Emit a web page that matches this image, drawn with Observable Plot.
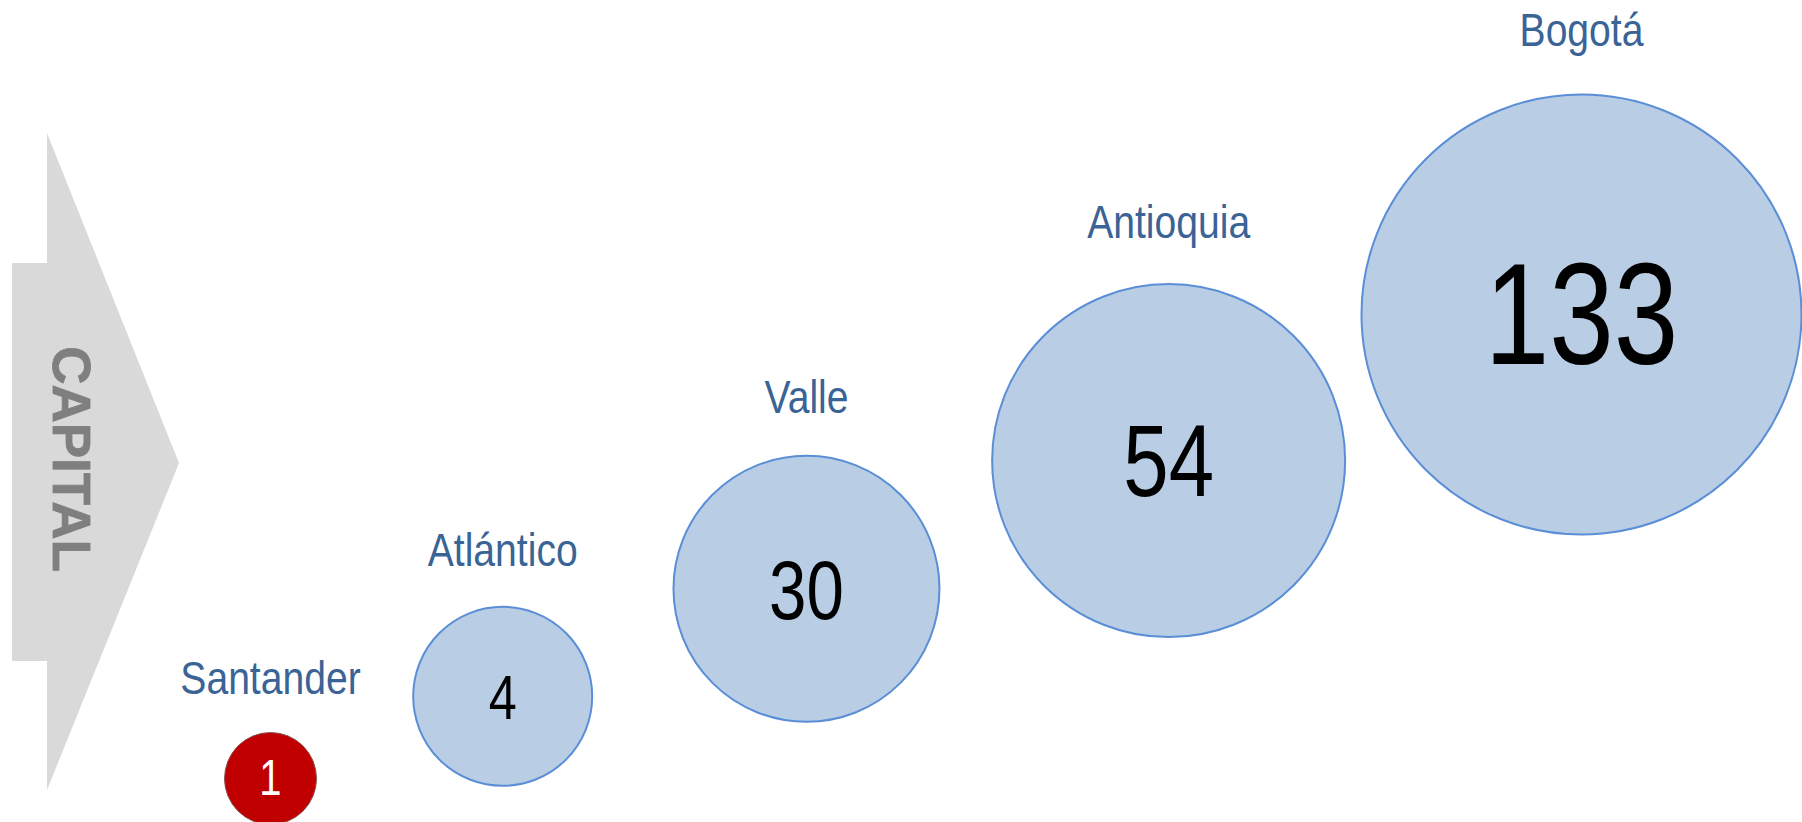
<!DOCTYPE html>
<html>
<head>
<meta charset="utf-8">
<script src="https://cdn.jsdelivr.net/npm/d3@7"></script>
<script src="https://cdn.jsdelivr.net/npm/@observablehq/plot@0.6"></script>
<style>
  html, body { margin: 0; padding: 0; background: #ffffff; }
  #wrap { position: relative; width: 1802px; height: 822px; overflow: hidden; }
  #arrow, #chart { position: absolute; left: 0; top: 0; }
</style>
</head>
<body>
<div id="wrap">
  <svg id="arrow" width="1802" height="822"></svg>
  <div id="chart"></div>
</div>
<script>
// ---- data ----
const departments = ["Santander", "Atlántico", "Valle", "Antioquia", "Bogotá"];
const counts = [1, 4, 30, 54, 133];
const highlighted = ["Santander"];
const sideLabel = "CAPITAL";

const data = departments.map((name, i) => ({name, value: counts[i], rank: i + 1}));

// ---- font detection (narrow face if available) ----
function hasFont(name) {
  const c = document.createElement("canvas").getContext("2d");
  const s = "Bogotá Antioquia 133 mmwwii";
  c.font = "40px monospace";
  const a = c.measureText(s).width;
  c.font = `40px "${name}", monospace`;
  return c.measureText(s).width !== a;
}
const narrow = ["Liberation Sans Narrow", "Arial Narrow"].find(hasFont);
const font = narrow ? `"${narrow}", "Liberation Sans", Arial, sans-serif` : `"Liberation Sans", Arial, sans-serif`;
const labelSqueeze = narrow ? 1 : 0.85;
const numberSqueeze = narrow ? 1 : 0.8;

// ---- decorative arrow ----
const arrow = d3.select("#arrow");
arrow.append("polygon")
  .attr("points", "12,263 47,263 47,133 179,463 47,790 47,661 12,661")
  .attr("fill", "#D9D9D9");
arrow.append("text")
  .attr("transform", "translate(72,459) rotate(90)")
  .attr("text-anchor", "middle")
  .attr("dy", "0.36em")
  .attr("font-family", `"Liberation Sans", Arial, sans-serif`)
  .attr("font-weight", "bold")
  .attr("font-size", 53)
  .attr("stroke", "#7F7F7F")
  .attr("stroke-width", 0.8)
  .attr("fill", "#7F7F7F")
  .text(sideLabel);

// ---- scales ----
const xOpts = {type: "pow", exponent: 1.52, domain: [1, 5], range: [270, 1581]};
const yOpts = {type: "pow", exponent: 1.52, domain: [1, 5], range: [778, 314]};
const rOpts = {type: "linear", domain: [1, 5], range: [46, 220]};
const yS = Plot.scale({y: yOpts});
const rS = Plot.scale({r: rOpts});

const isHi = d => highlighted.includes(d.name);
// digit size grows with bubble order (style only)
const numSizeScale = d3.scaleLinear().domain([1, 2, 3, 4, 5]).range([50, 63, 84, 102, 145]);
const numSize = d => numSizeScale(d.rank);
const labelY = d => {
  const r = rS.apply(d.rank);
  return yS.invert(yS.apply(d.rank) - 1.06 * r - 50);
};

const chart = Plot.plot({
  width: 1802,
  height: 822,
  margin: 0,
  x: {...xOpts, axis: null},
  y: {...yOpts, axis: null},
  r: rOpts,
  style: {background: "transparent", overflow: "visible", fontFamily: font},
  marks: [
    Plot.dot(data, {filter: d => !isHi(d), x: "rank", y: "rank", r: "rank",
      fill: "#B9CDE5", stroke: "#5A8ED6", strokeWidth: 2}),
    Plot.dot(data, {filter: isHi, x: "rank", y: "rank", r: "rank",
      fill: "#C00000", stroke: "#8A5050", strokeWidth: 1}),
    Plot.text(data, {filter: d => !isHi(d), x: "rank", y: "rank", text: d => String(d.value),
      fontSize: numSize, fill: "#000000", dy: 3, className: "num"}),
    Plot.text(data, {filter: isHi, x: "rank", y: "rank", text: d => String(d.value),
      fontSize: numSize, fill: "#FFFFFF", className: "num"}),
    Plot.text(data, {x: "rank", y: labelY, text: "name", fontSize: 46, fill: "#3A6396", className: "lbl"})
  ]
});
document.getElementById("chart").appendChild(chart);

// Condense glyphs horizontally if no narrow face is installed
function squeezeTexts(sel, k) {
  if (k === 1) return;
  d3.select(chart).selectAll(sel).each(function() {
    const t = d3.select(this);
    const tr = t.attr("transform");
    if (tr) t.attr("transform", `${tr} scale(${k},1)`);
    else {
      const x = +t.attr("x") || 0, y = +t.attr("y") || 0;
      t.attr("transform", `translate(${x},${y}) scale(${k},1) translate(${-x},${-y})`);
    }
  });
}
squeezeTexts(".num text", numberSqueeze);
squeezeTexts(".lbl text", labelSqueeze);
</script>
</body>
</html>
